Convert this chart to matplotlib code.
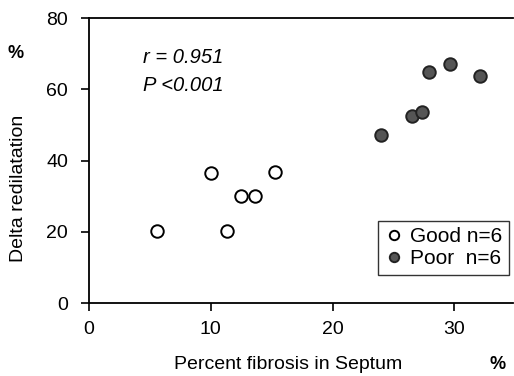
import matplotlib.pyplot as plt

plt.rcParams['font.family'] = ['Liberation Sans', 'DejaVu Sans']

# fibrosis (%) vs delta redilatation (%)
good_x = [5.6, 10.0, 11.3, 12.5, 13.6, 15.3]
good_y = [20.2, 36.5, 20.2, 30.0, 30.0, 36.8]
poor_x = [24.0, 26.5, 27.3, 27.9, 29.6, 32.1]
poor_y = [47.3, 52.4, 53.5, 64.8, 67.0, 63.7]

fig = plt.figure(figsize=(5.14, 3.76), dpi=100)
ax = fig.add_axes([0.173, 0.194, 0.825, 0.758])

ax.plot(good_x, good_y, 'o', ms=9, mfc='white', mec='black', mew=1.4,
        label='Good n=6')
ax.plot(poor_x, poor_y, 'o', ms=9, mfc='#555555', mec='#222222', mew=1.4,
        label='Poor  n=6')

ax.set_xlim(0, 34.8)
ax.set_ylim(0, 80)
ax.set_xticks([0, 10, 20, 30])
ax.set_yticks([0, 20, 40, 60, 80])
ax.tick_params(labelsize=14, length=6, width=1.2, direction='out')
ax.tick_params(axis='y', pad=9)
ax.tick_params(axis='x', pad=7)
ax.spines['right'].set_visible(False)
for s in ['left', 'bottom', 'top']:
    ax.spines[s].set_linewidth(1.3)

fig.text(0.56, 0.018, 'Percent fibrosis in Septum', fontsize=14, ha='center')
fig.text(0.036, 0.5, 'Delta redilatation', fontsize=14, rotation=90,
         ha='center', va='center')
fig.text(0.03, 0.845, '%', fontsize=13, fontweight='bold', ha='center')
fig.text(0.968, 0.018, '%', fontsize=13, fontweight='bold', ha='center')

ax.text(4.4, 67.5, 'r = 0.951', fontsize=14.5, style='italic')
ax.text(4.4, 59.5, 'P <0.001', fontsize=14.5, style='italic')

leg = ax.legend(loc='lower right', bbox_to_anchor=(0.99, 0.1), fontsize=15,
                frameon=True, fancybox=False, edgecolor='black',
                handletextpad=0.35, borderpad=0.3, labelspacing=0.15,
                handlelength=0.9, markerscale=0.75, borderaxespad=0)
leg.get_frame().set_linewidth(1.0)

fig.savefig('out.png', dpi=100)
